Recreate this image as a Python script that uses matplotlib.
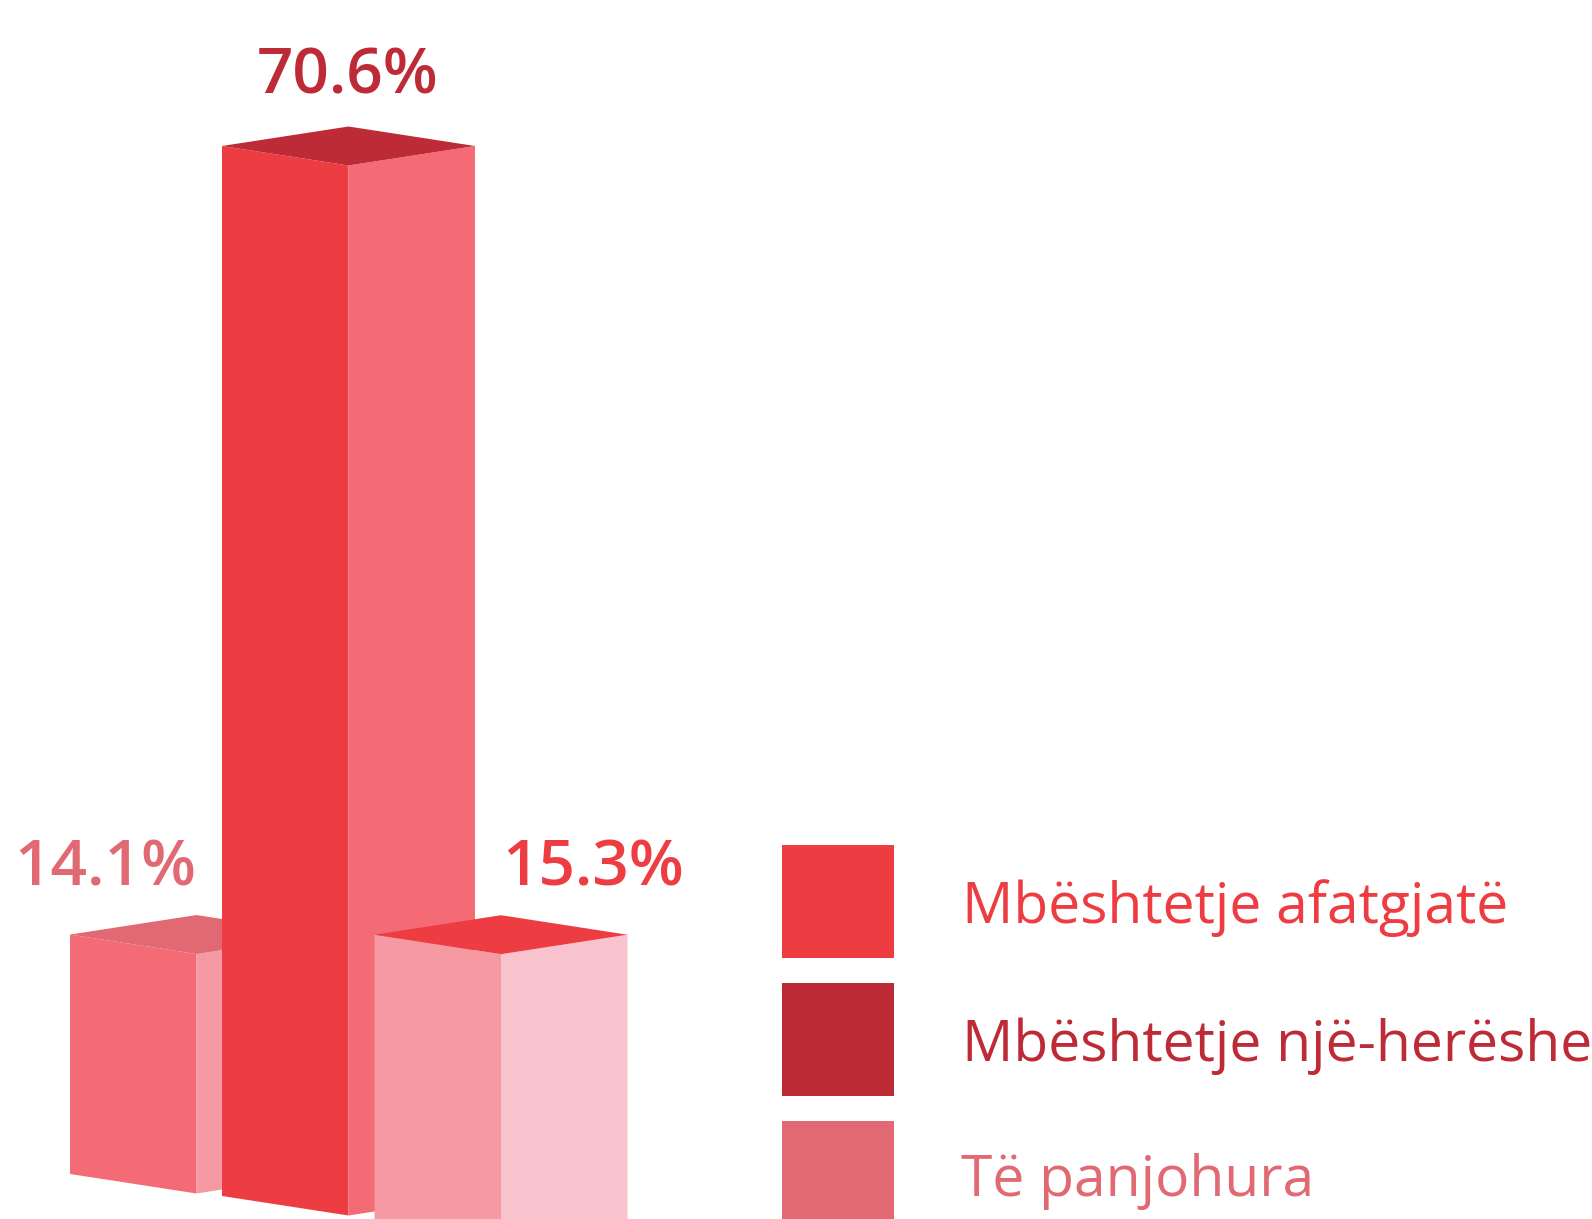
import matplotlib
matplotlib.use('Agg')
import matplotlib.pyplot as plt

# values printed over the bars, left to right
labels = ['14.1%', '70.6%', '15.3%']
# height of each bar as pictured, in percent units (the picture is not to scale with its labels)
drawn_heights = [16.1, 70.6, 21.2]

legend_names = ['Mbështetje afatgjatë', 'Mbështetje një-herëshe', 'Të panjohura']

# layout, in pixels of the 1592x1219 canvas
centers = [196.5, 348.5, 501]
floors = [1174, 1196, 1250]
half_w = 126.5
rise = 19.5
px_per_unit = 1050 / 70.6

# colours per bar: top, left face, right face, label
top_cols = ['#E16973', '#BD2B37', '#EE3D42']
left_cols = ['#F46B75', '#EE3D42', '#F59AA2']
right_cols = ['#F59AA2', '#F46B75', '#F8C3CC']
label_cols = ['#E16973', '#BD2B37', '#EE3D42']
legend_cols = ['#EE3D42', '#BD2B37', '#E16973']

plt.rcParams['font.family'] = ['Open Sans', 'DejaVu Sans']

fig = plt.figure(figsize=(15.92, 12.19), dpi=100)
ax = fig.add_axes([0, 0, 1, 1])
ax.set_xlim(0, 1592)
ax.set_ylim(1219, 0)
ax.axis('off')

label_x = [105, 348, 593.5]
label_y = [886, 94, 886]

for i in range(3):
    c = centers[i]
    f = floors[i]
    t = f - drawn_heights[i] * px_per_unit
    # left face
    ax.fill([c - half_w, c, c, c - half_w], [t, t + rise, f + rise, f], color=left_cols[i], lw=0)
    # right face
    ax.fill([c, c + half_w, c + half_w, c], [t + rise, t, f, f + rise], color=right_cols[i], lw=0)
    # top
    ax.fill([c - half_w, c, c + half_w, c], [t, t - rise, t, t + rise], color=top_cols[i], lw=0)
    ax.text(label_x[i], label_y[i], labels[i], color=label_cols[i], fontsize=46,
            fontweight='semibold', ha='center', va='baseline')

# legend squares and names
box_tops = [845, 983, 1121]
text_base = [923, 1061, 1196]
text_x = [962.5, 962.5, 961]
for i in range(3):
    ax.fill([782, 894, 894, 782],
            [box_tops[i], box_tops[i], box_tops[i] + 113, box_tops[i] + 113],
            color=legend_cols[i], lw=0)
    ax.text(text_x[i], text_base[i], legend_names[i], color=legend_cols[i], fontsize=41,
            ha='left', va='baseline')

fig.savefig('out.png', dpi=100)
